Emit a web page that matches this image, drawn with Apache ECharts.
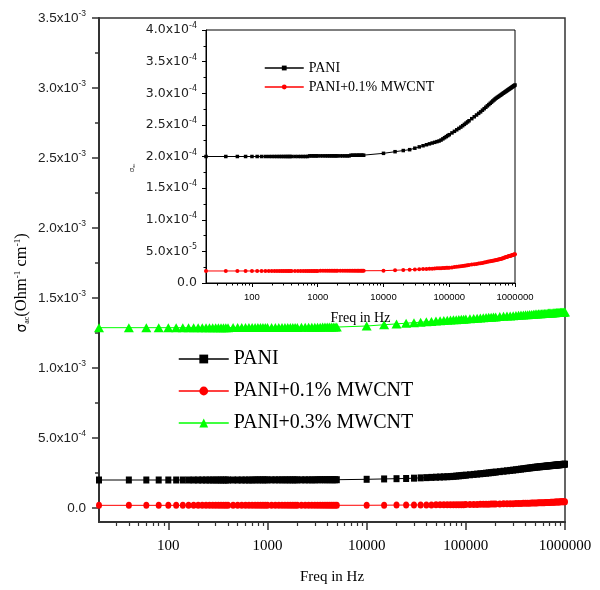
<!DOCTYPE html>
<html><head><meta charset="utf-8">
<script src="https://cdn.jsdelivr.net/npm/echarts@6/dist/echarts.min.js"></script>
<style>html,body{margin:0;padding:0;background:#fff}#c{width:600px;height:590px}</style>
</head><body><div id="c"></div>
<script>
const freqHz = [20,40,60,80,100,120,140,160,180,200,220,240,260,280,300,320,340,360,380,400,
450,500,550,600,650,700,750,800,850,900,950,1000,
1100,1200,1300,1400,1500,1600,1700,1800,1900,2000,
2200,2400,2600,2800,3000,3200,3400,3600,3800,4000,4200,4400,4600,4800,5000,
10000,15000,20000,25000,30000,35000,40000,45000,50000,55000,60000,65000,70000,75000,80000,85000,90000,95000,100000,
110000,120000,130000,140000,150000,160000,170000,180000,190000,200000,
220000,240000,260000,280000,300000,320000,340000,360000,380000,400000,
420000,440000,460000,480000,500000,520000,540000,560000,580000,600000,
620000,640000,660000,680000,700000,720000,740000,760000,780000,800000,
820000,840000,860000,880000,900000,920000,940000,960000,980000,1000000];

const sigmaPANI = [2.00e-4,2.00e-4,2.00e-4,2.00e-4,2.00e-4,2.00e-4,2.00e-4,2.00e-4,2.00e-4,2.00e-4,2.00e-4,2.00e-4,2.00e-4,2.00e-4,2.00e-4,2.00e-4,2.00e-4,2.00e-4,2.00e-4,2.00e-4,
2.00e-4,2.00e-4,2.00e-4,2.00e-4,2.00e-4,2.00e-4,2.01e-4,2.01e-4,2.01e-4,2.01e-4,2.01e-4,2.01e-4,
2.01e-4,2.01e-4,2.01e-4,2.01e-4,2.01e-4,2.01e-4,2.01e-4,2.01e-4,2.01e-4,2.01e-4,
2.01e-4,2.01e-4,2.01e-4,2.01e-4,2.01e-4,2.02e-4,2.02e-4,2.02e-4,2.02e-4,2.02e-4,2.02e-4,2.02e-4,2.02e-4,2.02e-4,2.02e-4,
2.050e-4,2.076e-4,2.094e-4,2.108e-4,2.131e-4,2.152e-4,2.170e-4,2.186e-4,2.200e-4,2.213e-4,2.224e-4,2.235e-4,2.245e-4,2.260e-4,2.279e-4,2.297e-4,2.314e-4,2.330e-4,2.345e-4,
2.373e-4,2.398e-4,2.422e-4,2.444e-4,2.465e-4,2.487e-4,2.508e-4,2.528e-4,2.547e-4,2.565e-4,
2.598e-4,2.628e-4,2.656e-4,2.682e-4,2.706e-4,2.732e-4,2.756e-4,2.779e-4,2.801e-4,2.821e-4,
2.841e-4,2.859e-4,2.878e-4,2.894e-4,2.911e-4,2.924e-4,2.936e-4,2.947e-4,2.958e-4,2.969e-4,
2.979e-4,2.990e-4,3.000e-4,3.009e-4,3.018e-4,3.027e-4,3.035e-4,3.044e-4,3.052e-4,3.060e-4,
3.068e-4,3.075e-4,3.082e-4,3.089e-4,3.097e-4,3.104e-4,3.110e-4,3.117e-4,3.123e-4,3.130e-4];

const sigmaMW01 = [1.90e-5,1.90e-5,1.90e-5,1.90e-5,1.90e-5,1.90e-5,1.90e-5,1.90e-5,1.90e-5,1.90e-5,1.90e-5,1.90e-5,1.90e-5,1.90e-5,1.90e-5,1.90e-5,1.90e-5,1.90e-5,1.90e-5,1.90e-5,
1.90e-5,1.90e-5,1.90e-5,1.90e-5,1.90e-5,1.90e-5,1.91e-5,1.91e-5,1.91e-5,1.91e-5,1.91e-5,1.91e-5,
1.92e-5,1.92e-5,1.92e-5,1.92e-5,1.92e-5,1.92e-5,1.92e-5,1.92e-5,1.92e-5,1.92e-5,
1.93e-5,1.93e-5,1.93e-5,1.93e-5,1.93e-5,1.93e-5,1.93e-5,1.93e-5,1.94e-5,1.94e-5,1.94e-5,1.94e-5,1.94e-5,1.94e-5,1.94e-5,
1.950e-5,2.019e-5,2.068e-5,2.106e-5,2.137e-5,2.164e-5,2.194e-5,2.223e-5,2.249e-5,2.272e-5,2.293e-5,2.313e-5,2.331e-5,2.348e-5,2.364e-5,2.379e-5,2.393e-5,2.406e-5,2.419e-5,
2.461e-5,2.518e-5,2.570e-5,2.617e-5,2.662e-5,2.704e-5,2.743e-5,2.780e-5,2.816e-5,2.848e-5,
2.909e-5,2.966e-5,3.018e-5,3.066e-5,3.115e-5,3.177e-5,3.234e-5,3.289e-5,3.342e-5,3.390e-5,
3.437e-5,3.481e-5,3.525e-5,3.564e-5,3.604e-5,3.641e-5,3.676e-5,3.712e-5,3.745e-5,3.787e-5,
3.835e-5,3.883e-5,3.932e-5,3.976e-5,4.017e-5,4.059e-5,4.100e-5,4.141e-5,4.179e-5,4.217e-5,
4.254e-5,4.289e-5,4.323e-5,4.357e-5,4.392e-5,4.426e-5,4.457e-5,4.488e-5,4.519e-5,4.550e-5];

const sigmaMW03 = [1.288e-3,1.288e-3,1.288e-3,1.288e-3,1.288e-3,1.288e-3,1.288e-3,1.288e-3,1.288e-3,1.288e-3,1.288e-3,1.288e-3,1.288e-3,1.288e-3,1.288e-3,1.288e-3,1.288e-3,1.288e-3,1.288e-3,1.288e-3,
1.289e-3,1.289e-3,1.289e-3,1.289e-3,1.289e-3,1.289e-3,1.289e-3,1.289e-3,1.289e-3,1.289e-3,1.289e-3,1.289e-3,
1.290e-3,1.290e-3,1.290e-3,1.290e-3,1.290e-3,1.290e-3,1.290e-3,1.290e-3,1.290e-3,1.290e-3,
1.291e-3,1.291e-3,1.291e-3,1.291e-3,1.291e-3,1.291e-3,1.291e-3,1.292e-3,1.292e-3,1.292e-3,1.292e-3,1.292e-3,1.292e-3,1.292e-3,1.292e-3,
1.300e-3,1.309e-3,1.315e-3,1.320e-3,1.324e-3,1.327e-3,1.330e-3,1.333e-3,1.335e-3,1.337e-3,1.339e-3,1.341e-3,1.342e-3,1.344e-3,1.345e-3,1.346e-3,1.348e-3,1.349e-3,1.350e-3,
1.352e-3,1.354e-3,1.356e-3,1.357e-3,1.359e-3,1.360e-3,1.362e-3,1.363e-3,1.364e-3,1.365e-3,
1.367e-3,1.369e-3,1.371e-3,1.372e-3,1.374e-3,1.375e-3,1.377e-3,1.378e-3,1.379e-3,1.380e-3,
1.381e-3,1.382e-3,1.383e-3,1.384e-3,1.385e-3,1.386e-3,1.387e-3,1.387e-3,1.388e-3,1.389e-3,
1.390e-3,1.390e-3,1.391e-3,1.392e-3,1.392e-3,1.393e-3,1.393e-3,1.394e-3,1.395e-3,1.395e-3,
1.396e-3,1.396e-3,1.397e-3,1.397e-3,1.398e-3,1.398e-3,1.399e-3,1.399e-3,1.400e-3,1.400e-3];

const seriesNames = ['PANI', 'PANI+0.1% MWCNT', 'PANI+0.3% MWCNT'];
const mainYTicks = [0, 5e-4, 1e-3, 1.5e-3, 2e-3, 2.5e-3, 3e-3, 3.5e-3];
const mainYMinor = [2.5e-4, 7.5e-4, 1.25e-3, 1.75e-3, 2.25e-3, 2.75e-3, 3.25e-3];
const xMajor = [100, 1000, 10000, 100000, 1000000];
const xMinor = [30,40,50,60,70,80,90,200,300,400,500,600,700,800,900,
2000,3000,4000,5000,6000,7000,8000,9000,20000,30000,40000,50000,60000,70000,80000,90000,
200000,300000,400000,500000,600000,700000,800000,900000];

function sci(v) {
  if (Math.abs(v) < 1e-12) return '{n|0.0}';
  const e = Math.floor(Math.log10(Math.abs(v)) + 1e-9);
  const m = v / Math.pow(10, e);
  return '{n|' + m.toFixed(1) + 'x10}{s|' + e + '}';
}
const pts = arr => freqHz.map((f, i) => [f, arr[i]]);

const chart = echarts.init(document.getElementById('c'), null, {renderer: 'canvas'});
const axisCol = '#333';
const serif = 'Liberation Serif';
const sans = 'Liberation Sans';

chart.setOption({
  animation: false,
  backgroundColor: '#fff',
  grid: [
    {left: 99, top: 18, right: 35, bottom: 68, show: true, borderColor: axisCol, borderWidth: 1.5, backgroundColor: 'transparent', containLabel: false},
    {left: 206, top: 30, right: 85, bottom: 307, show: true, borderColor: '#000', borderWidth: 1, backgroundColor: '#fff', containLabel: false}
  ],
  xAxis: [
    {type: 'log', logBase: 10, gridIndex: 0, position: 'bottom', min: 20, max: 1000000,
      axisLine: {show: true, onZero: false, lineStyle: {color: axisCol, width: 2}},
      axisTick: {show: true, inside: false, length: 8, customValues: xMajor, lineStyle: {color: axisCol, width: 1.5}},
      axisLabel: {show: true, customValues: xMajor, margin: 17, fontFamily: serif, fontSize: 15, color: '#000', formatter: v => String(Math.round(v))},
      splitLine: {show: false}, minorTick: {show: false},
      name: 'Freq in Hz', nameLocation: 'middle', nameGap: 48,
      nameTextStyle: {fontFamily: serif, fontSize: 15, color: '#000'}},
    {type: 'log', logBase: 10, gridIndex: 0, position: 'bottom', min: 20, max: 1000000,
      axisLine: {show: false, onZero: false},
      axisTick: {show: true, inside: false, length: 4, customValues: xMinor, lineStyle: {color: axisCol, width: 1.2}},
      axisLabel: {show: false}, splitLine: {show: false}},
    {type: 'log', logBase: 10, gridIndex: 1, position: 'bottom', min: 20, max: 1000000, z: 5,
      axisLine: {show: true, onZero: false, lineStyle: {color: '#000', width: 1}},
      axisTick: {show: true, inside: false, length: 4, customValues: xMajor, lineStyle: {color: '#000', width: 1}},
      axisLabel: {show: true, customValues: xMajor, margin: 9, fontFamily: sans, fontSize: 9.5, color: '#000', formatter: v => String(Math.round(v))},
      splitLine: {show: false},
      name: 'Freq in Hz', nameLocation: 'middle', nameGap: 28,
      nameTextStyle: {fontFamily: serif, fontSize: 14, color: '#000'}},
    {type: 'log', logBase: 10, gridIndex: 1, position: 'bottom', min: 20, max: 1000000,
      axisLine: {show: false, onZero: false},
      axisTick: {show: true, inside: false, length: 2.5, customValues: xMinor, lineStyle: {color: '#000', width: 1}},
      axisLabel: {show: false}, splitLine: {show: false}}
  ],
  yAxis: [
    {type: 'value', gridIndex: 0, position: 'left', min: -1e-4, max: 3.5e-3,
      axisLine: {show: true, onZero: false, lineStyle: {color: axisCol, width: 2}},
      axisTick: {show: true, inside: false, length: 7, customValues: mainYTicks, lineStyle: {color: axisCol, width: 1.5}},
      axisLabel: {show: true, customValues: mainYTicks, margin: 13, formatter: v => sci(v),
        rich: {n: {fontFamily: sans, fontSize: 13.5, color: '#222', lineHeight: 18},
               s: {fontFamily: sans, fontSize: 8.5, color: '#222', lineHeight: 9, verticalAlign: 'top'}}},
      splitLine: {show: false}},
    {type: 'value', gridIndex: 0, position: 'left', min: -1e-4, max: 3.5e-3,
      axisLine: {show: false, onZero: false},
      axisTick: {show: true, inside: false, length: 4, customValues: mainYMinor, lineStyle: {color: axisCol, width: 1.5}},
      axisLabel: {show: false}, splitLine: {show: false}},
    {type: 'value', gridIndex: 1, position: 'left', min: 0, max: 4e-4, interval: 5e-5,
      axisLine: {show: true, onZero: false, lineStyle: {color: '#000', width: 1}},
      axisTick: {show: true, inside: false, length: 4, lineStyle: {color: '#000', width: 1}},
      minorTick: {show: true, splitNumber: 2, length: 2.5, lineStyle: {color: '#000', width: 1}},
      axisLabel: {show: true, margin: 9, formatter: v => sci(v),
        rich: {n: {fontFamily: 'DejaVu Sans', fontSize: 12.5, color: '#222', lineHeight: 16},
               s: {fontFamily: 'DejaVu Sans', fontSize: 8, color: '#222', lineHeight: 8, verticalAlign: 'top'}}},
      splitLine: {show: false}}
  ],
  legend: [
    {data: seriesNames, orient: 'vertical', left: 173, top: 344, itemWidth: 50, itemHeight: 11, itemGap: 12,
      selectedMode: false, lineStyle: {width: 1.5},
      textStyle: {fontFamily: serif, fontSize: 20, color: '#000'}},
    {data: seriesNames.slice(0, 2), orient: 'vertical', left: 259, top: 56, itemWidth: 39, itemHeight: 6, itemGap: 5,
      selectedMode: false, lineStyle: {width: 1.5},
      textStyle: {fontFamily: serif, fontSize: 14, color: '#000'}}
  ],
  series: [
    {name: seriesNames[0], type: 'line', xAxisIndex: 0, yAxisIndex: 0, data: pts(sigmaPANI),
      symbol: 'rect', symbolSize: [6, 7], color: '#000', lineStyle: {width: 1, color: '#000'}, itemStyle: {color: '#000'}},
    {name: seriesNames[1], type: 'line', xAxisIndex: 0, yAxisIndex: 0, data: pts(sigmaMW01),
      symbol: 'circle', symbolSize: [6, 7], color: '#ff0000', lineStyle: {width: 1, color: '#ff0000'}, itemStyle: {color: '#ff0000'}},
    {name: seriesNames[2], type: 'line', xAxisIndex: 0, yAxisIndex: 0, data: pts(sigmaMW03),
      symbol: 'triangle', symbolSize: [10, 9], color: '#00ff00', lineStyle: {width: 1, color: '#00ff00'}, itemStyle: {color: '#00ff00'}},
    {name: seriesNames[0], type: 'line', xAxisIndex: 2, yAxisIndex: 2, data: pts(sigmaPANI), z: 4,
      symbol: 'rect', symbolSize: 3.5, color: '#000', lineStyle: {width: 1, color: '#000'}, itemStyle: {color: '#000'}},
    {name: seriesNames[1], type: 'line', xAxisIndex: 2, yAxisIndex: 2, data: pts(sigmaMW01), z: 4,
      symbol: 'circle', symbolSize: 4, color: '#ff0000', lineStyle: {width: 1, color: '#ff0000'}, itemStyle: {color: '#ff0000'}}
  ],
  graphic: [
    {type: 'text', x: 22, y: 283, rotation: Math.PI / 2,
      style: {text: '{g|σ}{b|ac}{t|(Ohm}{p|-1}{t| cm}{p|-1}{t|)}', align: 'center', verticalAlign: 'middle',
        rich: {g: {fontFamily: 'DejaVu Sans', fontSize: 14, lineHeight: 18, fill: '#000'},
               b: {fontFamily: serif, fontSize: 8, lineHeight: 8, verticalAlign: 'bottom', fill: '#000'},
               t: {fontFamily: serif, fontSize: 16.5, lineHeight: 18, fill: '#000'},
               p: {fontFamily: serif, fontSize: 9, lineHeight: 9, verticalAlign: 'top', fill: '#000'}}}},
    {type: 'text', x: 132, y: 168, rotation: Math.PI / 2,
      style: {text: '{g|σ}{b|ac}', align: 'center', verticalAlign: 'middle',
        rich: {g: {fontFamily: 'DejaVu Sans', fontSize: 7, lineHeight: 8, fill: '#333'},
               b: {fontFamily: sans, fontSize: 4, lineHeight: 4, verticalAlign: 'bottom', fill: '#333'}}}}
  ]
});
</script></body></html>
